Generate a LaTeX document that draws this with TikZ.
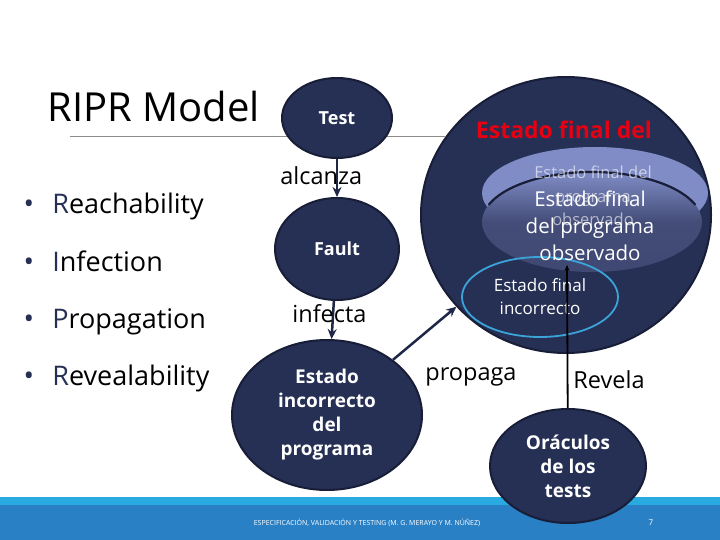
\documentclass[tikz,border=0pt]{standalone}
\usepackage{fontspec}
\setmainfont{Open Sans}
\usetikzlibrary{shapes.geometric,arrows.meta}

\definecolor{navy}{RGB}{38,47,84}
\definecolor{navyborde}{RGB}{24,30,56}
\definecolor{flechacol}{RGB}{31,39,71}
\definecolor{lila}{RGB}{128,140,198}
\definecolor{lilaosc}{RGB}{68,77,120}
\definecolor{cian}{RGB}{59,164,216}
\definecolor{barraclara}{RGB}{41,171,226}
\definecolor{barra}{RGB}{42,128,196}
\definecolor{rojo}{RGB}{230,0,18}

\tikzset{every picture/.style={line width=0.75pt}}

\begin{document}
\begin{tikzpicture}[x=1pt,y=1pt,yscale=-1,xscale=1,
  nodo/.style={ellipse,draw=navyborde,line width=2pt,fill=navy,text=white,align=center,inner sep=0pt,font=\bfseries\fontsize{19}{24}\selectfont},
  flecha/.style={draw=flechacol,line width=2.5pt,-{Stealth[length=10pt,width=9pt]}},
  etiqueta/.style={anchor=base west,inner sep=0pt,font=\fontsize{23.5}{28}\selectfont},
  vineta/.style={anchor=base west,inner sep=0pt,font=\fontsize{27}{32}\selectfont},
  punto/.style={anchor=base,inner sep=0pt,text=navy,font=\fontsize{28}{30}\selectfont}]
\useasboundingbox (0,0) rectangle (720,540);

%Straight Lines
\draw [color={rgb, 255:red, 140; green, 140; blue, 140 }, line width=1pt] (70,137) -- (445,137) ;

%Shape: Rectangle (footer)
\fill [barraclara] (0,497) rectangle (720,506) ;
\fill [barra] (0,505) rectangle (720,540) ;

%Shape: Ellipse (estado final del programa)
\node [ellipse,draw=navyborde,line width=2pt,fill=navy,minimum width=290,minimum height=276,inner sep=0pt] (final) at (566,215) {};
\fill [lila] (595,193) ellipse [x radius=113, y radius=46] ;
\shade [top color=lila, bottom color=lilaosc!85!navy, middle color=lilaosc] (592,222) ellipse [x radius=110, y radius=50] ;
\draw [navyborde, line width=2.2pt] (592,222) ++(200:110 and 50) arc [start angle=200, end angle=340, x radius=110, y radius=50] ;
%Shape: Ellipse (incorrecto)
\node [ellipse,draw=cian,line width=1.8pt,minimum width=156,minimum height=80,inner sep=0pt] (incorr) at (540,297) {};

% Text Node
\node [anchor=base,text=rojo,inner sep=0pt,font=\bfseries\fontsize{23}{28}\selectfont] (titfinal) at (564,139) {Estado final del};
% Text Node
\node [text=white,text opacity=0.6,align=center,inner sep=0pt,font=\fontsize{16.5}{23.5}\selectfont] (fantasma) at (593,196) {Estado final del\\programa\\observado};
% Text Node
\node [text=white,align=center,inner sep=0pt,font=\fontsize{20.5}{27}\selectfont] (observ) at (590,226) {Estado final\\del programa\\observado};
% Text Node
\node [text=white,align=center,inner sep=0pt,font=\fontsize{17}{23}\selectfont] (incorrtxt) at (540,297) {Estado final\\incorrecto};

%Shape: Ellipse (nodos)
\node [nodo,minimum width=110,minimum height=80,font=\bfseries\fontsize{18}{22}\selectfont] (test) at (337,118) {Test};
\node [nodo,minimum width=124,minimum height=102,font=\bfseries\fontsize{18}{22}\selectfont] (fault) at (337,249) {Fault};
\node [nodo,minimum width=190,minimum height=150] (estado) at (327,415) {Estado\\incorrecto\\del\\programa};
\node [nodo,minimum width=156,minimum height=114] (oraculo) at (568,466) {Oráculos\\de los\\tests};
\coordinate (revtip) at (567,265);

%Straight Lines
\draw [flecha] (test) -- (fault) ;
\draw [flecha] (fault) -- (estado) ;
\draw [flecha] (estado) -- (final) ;
\draw [line width=1.8pt,-{Stealth[length=6pt,width=5pt]}] (oraculo) -- (revtip) ;

% Text Node
\node [anchor=base west,inner sep=0pt,font=\fontsize{40}{48}\selectfont] (titulo) at (47,122) {RIPR Model};
% Text Node
\node [punto] (v1) at (29,214) {•};
\node [vineta] (reach) at (52,214) {\textcolor{navy}{R}eachability};
\node [punto] (v2) at (29,271) {•};
\node [vineta] (infec) at (52,271) {\textcolor{navy}{I}nfection};
\node [punto] (v3) at (29,328) {•};
\node [vineta] (propag) at (52,328) {\textcolor{navy}{P}ropagation};
\node [punto] (v4) at (29,385) {•};
\node [vineta] (reveal) at (52,385) {\textcolor{navy}{R}evealability};

% Text Node
\node [etiqueta] (alcanza) at (280,185) {alcanza};
\node [etiqueta] (infecta) at (292,322) {infecta};
\node [etiqueta] (propaga) at (425,380) {propaga};
\node [etiqueta] (revela) at (573,388) {Revela};

% Text Node
\node [text=white,inner sep=0pt,font=\fontsize{7}{8}\selectfont] (pie) at (367,523) {ESPECIFICACIÓN, VALIDACIÓN Y TESTING (M. G. MERAYO Y M. NÚÑEZ)};
\node [text=white,inner sep=0pt,font=\fontsize{8}{9}\selectfont] (pagina) at (651,523) {7};

\end{tikzpicture}
\end{document}
